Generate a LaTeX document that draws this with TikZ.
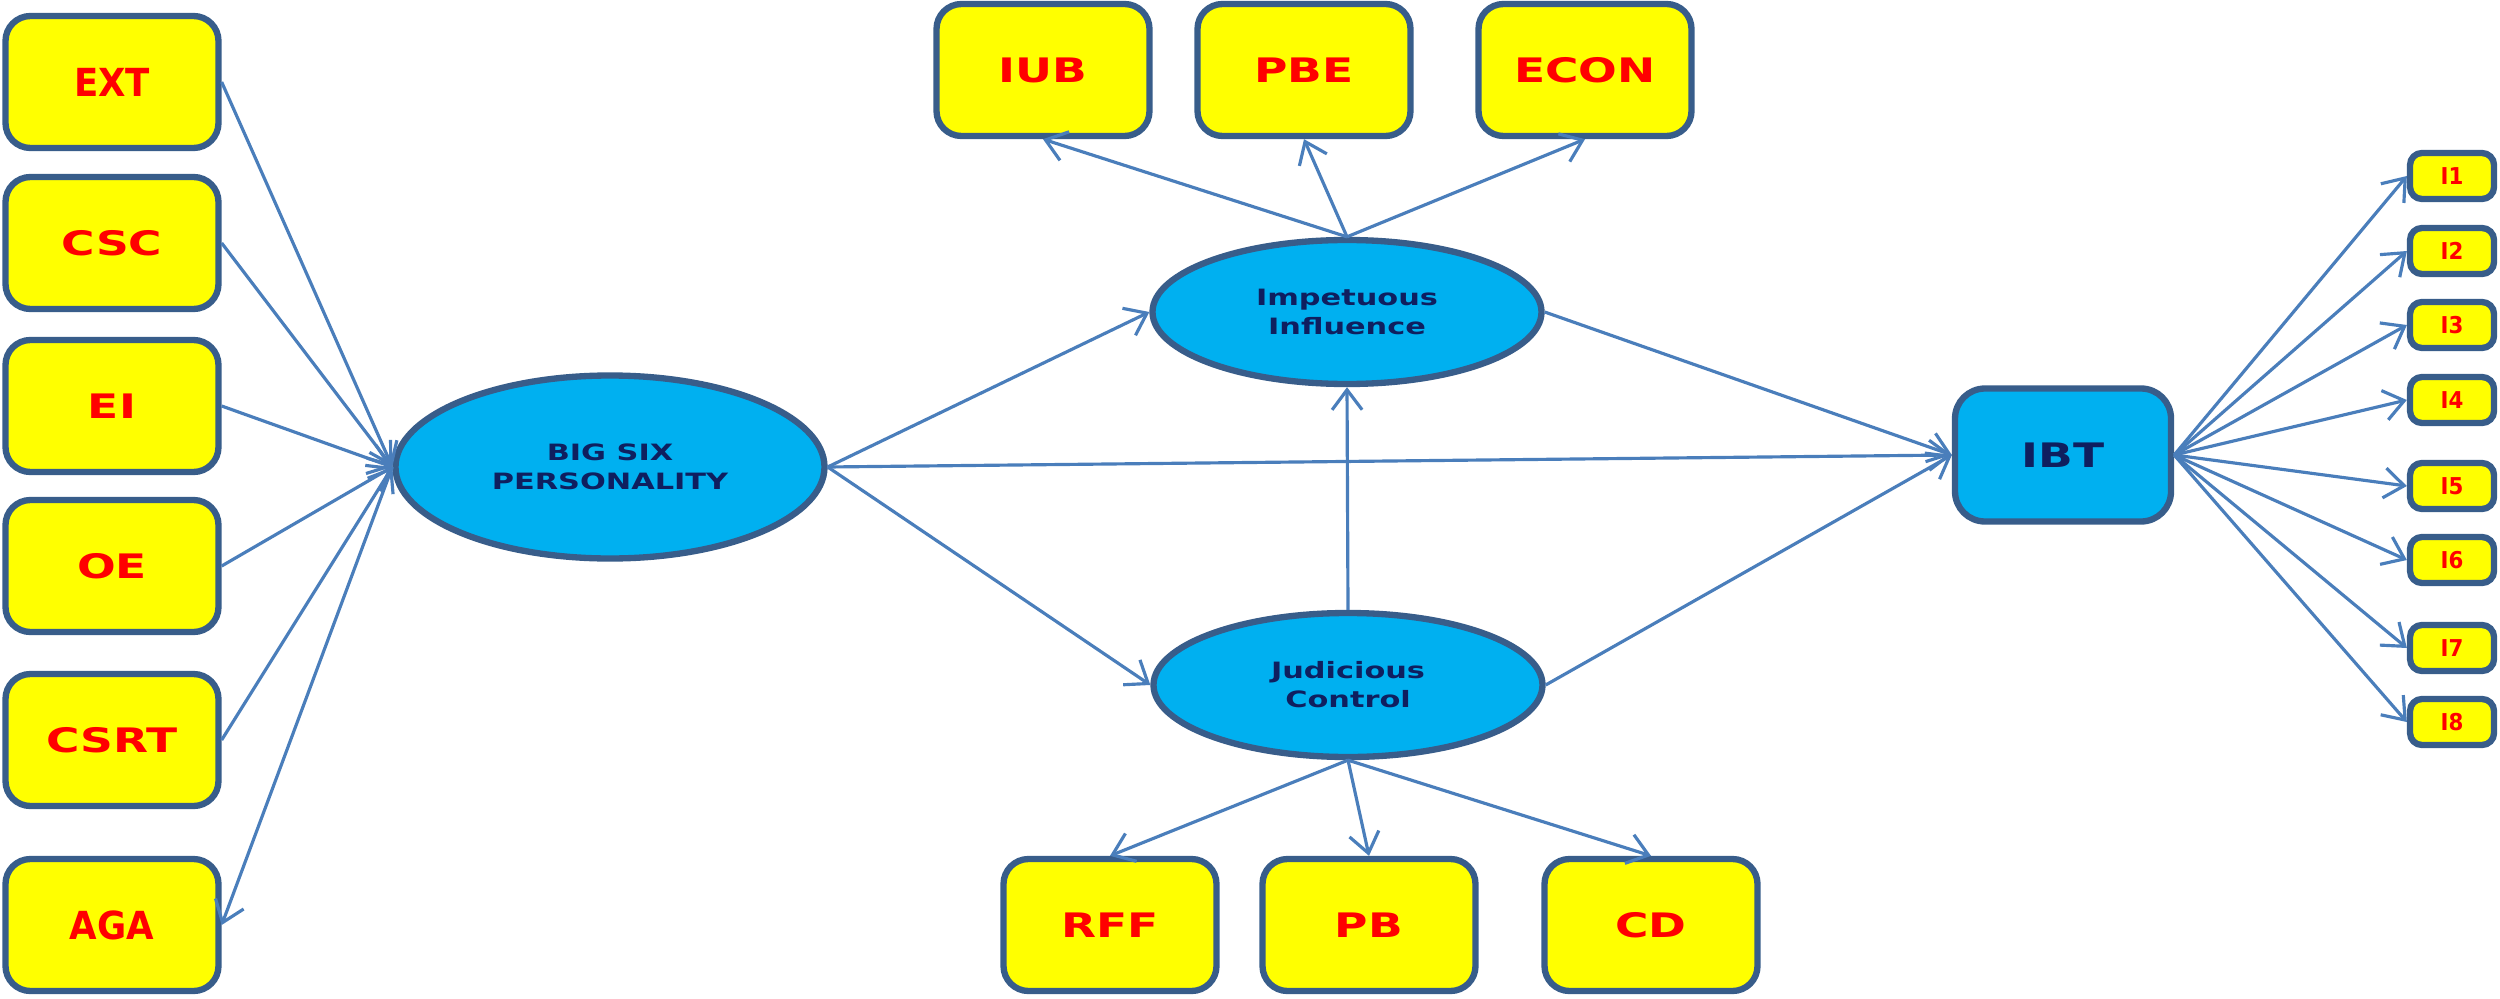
\documentclass[tikz,border=0pt]{standalone}
\usepackage{fontspec}
\usetikzlibrary{shapes.geometric,arrows.meta}
\newfontfamily\wideface[FakeStretch=1.35]{DejaVu Sans}
\newfontfamily\narrowface[FakeStretch=0.92]{DejaVu Sans}
\definecolor{edgeblue}{HTML}{385D8A}
\definecolor{lineblue}{HTML}{4A7EBB}
\definecolor{skyfill}{HTML}{00B0F0}
\definecolor{navytext}{HTML}{0F1F5F}
\definecolor{boxyellow}{HTML}{FFFF00}
\definecolor{labelred}{HTML}{FF0000}
\begin{document}
\begin{tikzpicture}[
    ybox/.style={draw=edgeblue, line width=1.8pt, fill=boxyellow, rounded corners=2.5mm,
      minimum width=2.13cm, minimum height=1.32cm, text=labelred,
      font={\wideface\bfseries\fontsize{9.6}{11}\selectfont}},
    nbox/.style={ybox, font={\narrowface\bfseries\fontsize{11}{12}\selectfont}},
    ibox/.style={draw=edgeblue, line width=1.8pt, fill=boxyellow, rounded corners=1.2mm,
      minimum width=0.84cm, minimum height=0.46cm, inner sep=0pt, text=labelred,
      font={\narrowface\bfseries\fontsize{6.6}{7}\selectfont}},
    latent/.style={ellipse, draw=edgeblue, line width=1.8pt, fill=skyfill, inner sep=0pt,
      text=navytext, align=center,
      font={\wideface\bfseries\fontsize{6.4}{8.2}\selectfont}},
    arr/.style={draw=lineblue, line width=0.9pt, -{Straight Barb[length=2mm,width=3mm]}}
  ]
  \useasboundingbox (0, 0) rectangle (25, 9.98);

  %%left boxes
  \node[nbox] (ext) at(1.12, 9.16){EXT};
  \node[ybox] (csc) at(1.12, 7.55){CSC};
  \node[ybox] (ei) at(1.12, 5.92){EI};
  \node[ybox] (oe) at(1.12, 4.32){OE};
  \node[ybox] (csrt) at(1.12, 2.58){CSRT};
  \node[nbox] (aga) at(1.12, 0.73){AGA};

  %%latent variables
  \node[latent, minimum width=4.29cm, minimum height=1.83cm] (big) at(6.10, 5.31){BIG SIX\\PERSONALITY};
  \node[latent, minimum width=3.89cm, minimum height=1.44cm] (imp) at(13.47, 6.86){Impetuous\\Influence};
  \node[latent, minimum width=3.89cm, minimum height=1.44cm] (jud) at(13.48, 3.13){Judicious\\Control};
  \node[ybox, fill=skyfill, text=navytext, rounded corners=3mm, minimum width=2.16cm, minimum height=1.33cm] (ibt) at(20.63, 5.43){IBT};

  %%top boxes
  \node[ybox] (iub) at(10.43, 9.28){IUB};
  \node[ybox] (pbe) at(13.04, 9.28){PBE};
  \node[ybox] (econ) at(15.85, 9.28){ECON};

  %%bottom boxes
  \node[ybox] (rff) at(11.10, 0.73){RFF};
  \node[ybox] (pb) at(13.69, 0.73){PB};
  \node[ybox] (cd) at(16.51, 0.73){CD};

  %%items
  \node[ibox] (i1) at(24.52, 8.22){I1};
  \node[ibox] (i2) at(24.52, 7.47){I2};
  \node[ibox] (i3) at(24.52, 6.73){I3};
  \node[ibox] (i4) at(24.52, 5.98){I4};
  \node[ibox] (i5) at(24.52, 5.12){I5};
  \node[ibox] (i6) at(24.52, 4.38){I6};
  \node[ibox] (i7) at(24.52, 3.50){I7};
  \node[ibox] (i8) at(24.52, 2.76){I8};

  %%into big six
  \draw[arr] (ext.east) to (big.west);
  \draw[arr] (csc.east) to (big.west);
  \draw[arr] (ei.east) to (big.west);
  \draw[arr] (oe.east) to (big.west);
  \draw[arr] (csrt.east) to (big.west);
  \draw[arr] (big.west) to (aga.east);

  %%paths
  \draw[arr] (big.east) to (imp.west);
  \draw[arr] (big.east) to (jud.west);
  \draw[arr] (big.east) to (ibt.west);
  \draw[arr] (jud.north) to (imp.south);
  \draw[arr] (imp.east) to (ibt.west);
  \draw[arr] (jud.east) to (ibt.west);

  %%impetuous
  \draw[arr] (imp.north) to (iub.south);
  \draw[arr] (imp.north) to (pbe.south);
  \draw[arr] (imp.north) to (econ.south);

  %%judicious
  \draw[arr] (jud.south) to (rff.north);
  \draw[arr] (jud.south) to (pb.north);
  \draw[arr] (jud.south) to (cd.north);

  %%ibt
  \draw[arr] (ibt.east) to (i1.west);
  \draw[arr] (ibt.east) to (i2.west);
  \draw[arr] (ibt.east) to (i3.west);
  \draw[arr] (ibt.east) to (i4.west);
  \draw[arr] (ibt.east) to (i5.west);
  \draw[arr] (ibt.east) to (i6.west);
  \draw[arr] (ibt.east) to (i7.west);
  \draw[arr] (ibt.east) to (i8.west);
\end{tikzpicture}
\end{document}
